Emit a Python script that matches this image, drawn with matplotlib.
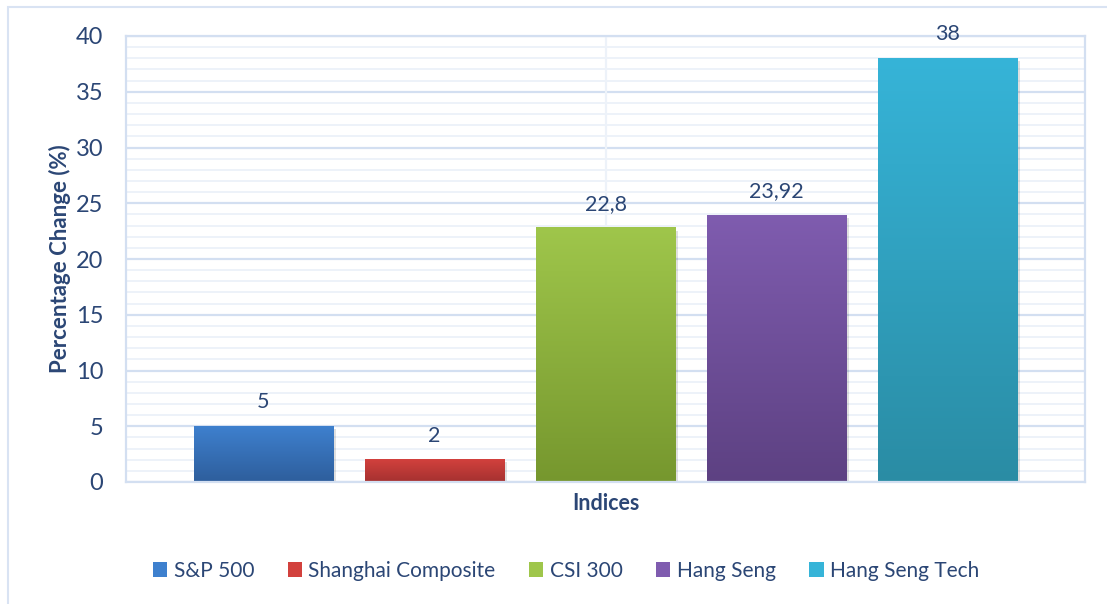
import numpy as np
import matplotlib.pyplot as plt
from matplotlib.patches import Rectangle
from matplotlib.colors import LinearSegmentedColormap

# === Data ===
indices = ["S&P 500", "Shanghai Composite", "CSI 300", "Hang Seng", "Hang Seng Tech"]
changes = [5, 2, 22.8, 23.92, 38]
labels = ["5", "2", "22,8", "23,92", "38"]
top_colors = ["#3E80CE", "#D2413D", "#9FC64B", "#7F5CAF", "#36B4D8"]
bottom_colors = ["#2E5E9C", "#A53130", "#76972E", "#5D4182", "#2A8CA4"]

TEXT = "#2B4675"
plt.rcParams["font.family"] = ["Lato", "DejaVu Sans"]

W, H = 1107, 604
fig = plt.figure(figsize=(W / 100, H / 100), dpi=100)
ax = fig.add_axes([126 / W, (H - 482) / H, 959 / W, 446 / H])

# outer chart frame
fig.patches.append(Rectangle((8 / W, -0.1), 1.2, (H - 7) / H + 0.1, transform=fig.transFigure,
                             fill=False, edgecolor="#D9E3F3", linewidth=1.5))

# grid
for y in range(0, 41):
    major = y % 5 == 0
    ax.axhline(y, color="#D3DFF1" if major else "#EDF2F9", linewidth=1.6 if major else 1.4, zorder=0)
ax.axvline(2, color="#EDF2F9", linewidth=1.6, zorder=0)

w = 0.813
for i, (v, c1, c2) in enumerate(zip(changes, top_colors, bottom_colors)):
    # soft shadow
    ax.add_patch(Rectangle((i - w / 2 + 0.02, -0.3), w, v + 0.05, color="#000000", alpha=0.12,
                           zorder=1, linewidth=0))
    cmap = LinearSegmentedColormap.from_list(f"g{i}", [c2, c1])
    grad = np.linspace(0, 1, 256).reshape(-1, 1)
    ax.imshow(grad, extent=(i - w / 2, i + w / 2, 0, v), origin="lower", cmap=cmap,
              aspect="auto", zorder=2)
    ax.annotate(labels[i], (i, v), xytext=(0, 10), textcoords="offset points",
                ha="center", va="bottom", fontsize=15.5, color=TEXT)

ax.set_xlim(-0.804, 4.804)
ax.set_ylim(0, 40)

for s in ax.spines.values():
    s.set_color("#D3DFF1")
    s.set_linewidth(1.6)

ax.set_xticks([])
ax.set_yticks(range(0, 41, 5))
ax.tick_params(axis="y", length=0, pad=16.5, labelsize=17, labelcolor=TEXT)

ax.set_ylabel("Percentage Change (%)", fontsize=16, fontweight="bold", color=TEXT, labelpad=3)
ax.set_xlabel("Indices", fontsize=15.5, fontweight="bold", color=TEXT, labelpad=8)

handles = [Rectangle((0, 0), 1, 1, facecolor=c) for c in top_colors]
fig.legend(handles, indices, loc="center", bbox_to_anchor=(566 / W, (H - 571) / H), ncol=5,
           frameon=False, fontsize=15, labelcolor=TEXT, handlelength=0.7, handleheight=0.7,
           handletextpad=0.3, columnspacing=1.6)

fig.savefig("out.png", dpi=100)
